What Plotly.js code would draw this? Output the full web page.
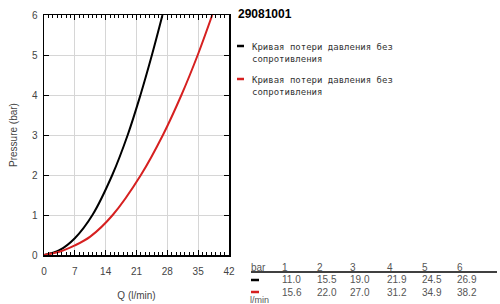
<!DOCTYPE html>
<html><head><meta charset="utf-8">
<script src="https://cdn.plot.ly/plotly-3.0.1.min.js"></script>
<style>html,body{margin:0;padding:0;background:#fff}</style>
</head><body>
<div id="chart" style="width:500px;height:304px"></div>
<script>
const chartTitle = "29081001";
const seriesNames = ["Кривая потери давления без<br>сопротивления", "Кривая потери давления без<br>сопротивления"];
const seriesColors = ["#000000", "#d62020"];
// curve points
const blackQ = [0, 3.5, 7, 11.0, 15.5, 19.0, 21.9, 24.5, 26.9];
const blackP = [0, 0.12, 0.42, 1, 2, 3, 4, 5, 6];
const redQ = [0, 3.5, 7, 10.5, 15.6, 22.0, 27.0, 31.2, 34.9, 38.2];
const redP = [0, 0.08, 0.24, 0.46, 1, 2, 3, 4, 5, 6];
// table
const tableBar = [1, 2, 3, 4, 5, 6];
const tableBlack = ["11.0", "15.5", "19.0", "21.9", "24.5", "26.9"];
const tableRed = ["15.6", "22.0", "27.0", "31.2", "34.9", "38.2"];
const xTicks = [0, 7, 14, 21, 28, 35, 42];

const traces = [
  {x: blackQ, y: blackP, mode: 'lines', line: {color: seriesColors[0], width: 2, shape: 'spline', smoothing: 1}, showlegend: false, hoverinfo: 'skip'},
  {x: redQ, y: redP, mode: 'lines', line: {color: seriesColors[1], width: 2, shape: 'spline', smoothing: 1}, showlegend: false, hoverinfo: 'skip'}
];

const annotations = [];
const shapes = [];
annotations.push({xref: 'paper', yref: 'paper', x: 1.0, y: 1.0, xanchor: 'left', yanchor: 'middle', xshift: 7, yshift: 1,
  text: '<b>' + chartTitle + '</b>', showarrow: false, font: {family: 'Liberation Sans, Arial', size: 12, color: '#000'}});
const legendY = [46, 79];
seriesNames.forEach((name, i) => {
  annotations.push({xref: 'paper', yref: 'paper', x: 0, y: 0, xanchor: 'left', yanchor: 'top', align: 'left',
    xshift: 250 - 44, yshift: 255 - legendY[i] + 6, text: name, showarrow: false,
    font: {family: 'DejaVu Sans Mono', size: 9, color: '#333'}});
  shapes.push({type: 'line', xref: 'paper', yref: 'paper', x0: (237 - 44) / 185, x1: (244 - 44) / 185,
    y0: (255 - legendY[i]) / 240, y1: (255 - legendY[i]) / 240, line: {color: seriesColors[i], width: 2.5}});
});

// table
const px = v => (v - 44) / 185;
const py = v => (255 - v) / 240;
const colX = [280, 315, 348, 385, 420, 455];
const tfont = {family: 'Liberation Sans, Arial', size: 10, color: '#555'};
annotations.push({xref: 'paper', yref: 'paper', x: px(249), y: py(267), xanchor: 'left', yanchor: 'middle', text: 'bar', showarrow: false, font: tfont});
annotations.push({xref: 'paper', yref: 'paper', x: px(248), y: py(300), xanchor: 'left', yanchor: 'middle', text: 'l/min', showarrow: false, font: {family: 'Liberation Sans, Arial', size: 9, color: '#555'}});
tableBar.forEach((b, i) => {
  annotations.push({xref: 'paper', yref: 'paper', x: px(colX[i]), y: py(267), xanchor: 'left', yanchor: 'middle', text: String(b), showarrow: false, font: tfont});
  annotations.push({xref: 'paper', yref: 'paper', x: px(colX[i]), y: py(279.5), xanchor: 'left', yanchor: 'middle', text: tableBlack[i], showarrow: false, font: tfont});
  annotations.push({xref: 'paper', yref: 'paper', x: px(colX[i]), y: py(292), xanchor: 'left', yanchor: 'middle', text: tableRed[i], showarrow: false, font: tfont});
});
shapes.push({type: 'line', xref: 'paper', yref: 'paper', x0: px(251), x1: px(497), y0: py(272), y1: py(272), line: {color: '#000', width: 1.5}});
shapes.push({type: 'line', xref: 'paper', yref: 'paper', x0: px(251), x1: px(259), y0: py(280), y1: py(280), line: {color: seriesColors[0], width: 2.5}});
shapes.push({type: 'line', xref: 'paper', yref: 'paper', x0: px(251), x1: px(259), y0: py(292), y1: py(292), line: {color: seriesColors[1], width: 2.5}});

const layout = {
  width: 500, height: 304,
  margin: {l: 44, r: 271, t: 15, b: 49},
  paper_bgcolor: '#fff', plot_bgcolor: '#fff',
  font: {family: 'Liberation Sans, Arial', size: 10, color: '#444'},
  xaxis: {range: [0, 42], tickvals: xTicks, ticktext: xTicks.map(String), showgrid: true, gridcolor: '#d6d6d6', gridwidth: 1,
    zeroline: false, showline: true, linecolor: '#000', linewidth: 1.5, mirror: 'ticks', ticks: 'inside', ticklen: 5, tickcolor: '#000',
    minor: {dtick: 1, ticks: 'inside', ticklen: 3, tickcolor: '#000', showgrid: false},
    ticklabelstandoff: 6,
    tickfont: {size: 10, color: '#444'},
    title: {text: 'Q (l/min)', font: {size: 10, color: '#444'}, standoff: 16}, fixedrange: true},
  yaxis: {range: [0, 6], dtick: 1, showgrid: true, gridcolor: '#d6d6d6', gridwidth: 1,
    zeroline: false, showline: true, linecolor: '#000', linewidth: 1.5, mirror: 'ticks', ticks: 'inside', ticklen: 5, tickcolor: '#000',
    ticklabelstandoff: 3,
    tickfont: {size: 10, color: '#444'},
    title: {text: 'Pressure (bar)', font: {size: 10, color: '#444'}, standoff: 12}, fixedrange: true},
  annotations: annotations,
  shapes: shapes,
  showlegend: false
};
Plotly.newPlot('chart', traces, layout, {staticPlot: true});
</script>
</body></html>
